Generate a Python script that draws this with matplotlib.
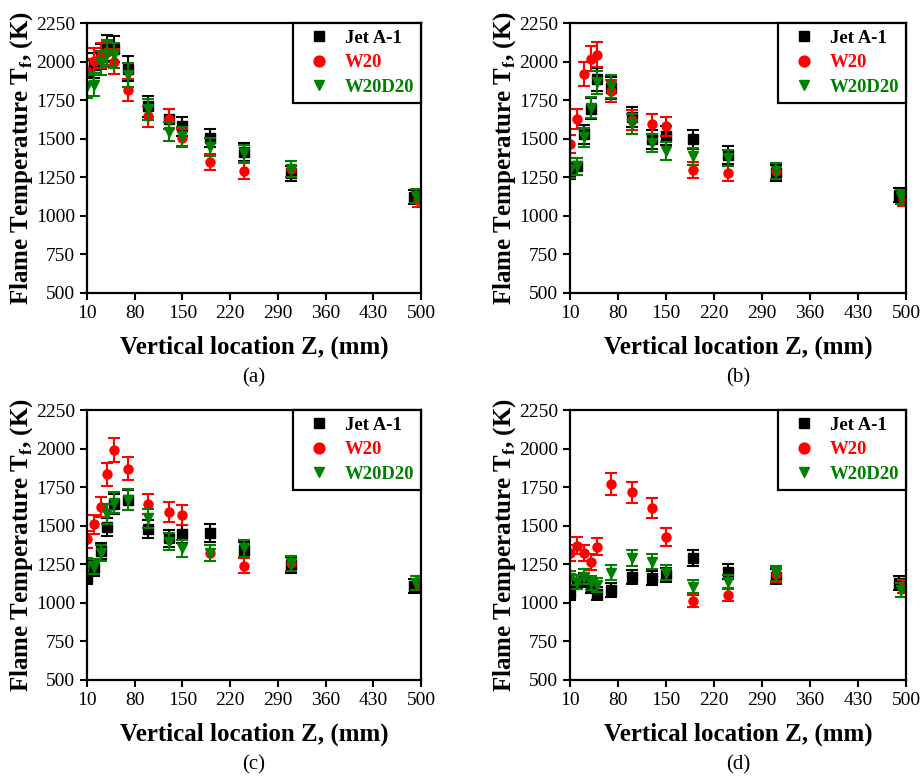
import matplotlib
matplotlib.use("Agg")
from matplotlib import pyplot as plt

plt.rcParams['font.family'] = 'Liberation Serif'
plt.rcParams['mathtext.fontset'] = 'custom'
plt.rcParams['mathtext.rm'] = 'Liberation Serif'
plt.rcParams['mathtext.bf'] = 'Liberation Serif:bold'

# vertical locations (mm)
z_jet = [10, 20, 30, 40, 50, 70, 100, 130, 150, 190, 240, 310, 490]
z_w20 = [10, 20, 30, 40, 50, 70, 100, 130, 150, 190, 240, 310, 496]
z_w20d20 = [10, 20, 30, 40, 50, 70, 100, 130, 150, 190, 240, 310, 492]

# flame temperature (K), panels a-d
jet_a = [1930, 1975, 2030, 2090, 2080, 1955, 1710, 1630, 1580, 1505, 1415, 1275, 1120]
w20_a = [1940, 2005, 2040, 2060, 2000, 1815, 1645, 1630, 1505, 1350, 1290, 1305, 1100]
w20d20_a = [1840, 1850, 1990, 2050, 2040, 1915, 1690, 1545, 1515, 1445, 1405, 1305, 1130]

jet_b = [1290, 1320, 1530, 1695, 1885, 1830, 1640, 1495, 1520, 1495, 1395, 1280, 1135]
w20_b = [1465, 1625, 1920, 2020, 2045, 1810, 1620, 1595, 1580, 1295, 1275, 1290, 1110]
w20d20_b = [1295, 1320, 1510, 1700, 1865, 1840, 1595, 1470, 1420, 1385, 1375, 1290, 1120]

jet_c = [1170, 1225, 1335, 1490, 1640, 1667, 1477, 1418, 1444, 1455, 1343, 1245, 1110]
w20_c = [1412, 1509, 1624, 1833, 1991, 1868, 1639, 1587, 1570, 1321, 1241, 1256, 1130]
w20d20_c = [1239, 1235, 1325, 1575, 1650, 1668, 1548, 1397, 1353, 1321, 1353, 1256, 1131]

jet_d = [1062, 1137, 1148, 1105, 1058, 1083, 1167, 1163, 1181, 1289, 1202, 1170, 1127]
w20_d = [1321, 1369, 1325, 1263, 1364, 1768, 1716, 1615, 1425, 1013, 1053, 1185, 1105]
w20d20_d = [1160, 1137, 1170, 1127, 1116, 1196, 1289, 1267, 1196, 1105, 1137, 1191, 1083]

rel_err = 0.04  # error bars are about 4 % of the reading

series = [("Jet A-1", z_jet, "s", "black"),
          ("W20", z_w20, "o", "red"),
          ("W20D20", z_w20d20, "v", "green")]
panels = [("(a)", [jet_a, w20_a, w20d20_a]),
          ("(b)", [jet_b, w20_b, w20d20_b]),
          ("(c)", [jet_c, w20_c, w20d20_c]),
          ("(d)", [jet_d, w20_d, w20d20_d])]
xticks = [10, 80, 150, 220, 290, 360, 430, 500]
yticks = [500, 750, 1000, 1250, 1500, 1750, 2000, 2250]

fig = plt.figure(figsize=(9.21, 7.78), dpi=100)
rects = [[0.0945, 0.6234, 0.3626, 0.347],
         [0.6189, 0.6234, 0.3648, 0.347],
         [0.0945, 0.126, 0.3626, 0.347],
         [0.6189, 0.126, 0.3648, 0.347]]

for rect, (tag, vals) in zip(rects, panels):
    ax = fig.add_axes(rect)
    for (name, z, mk, col), T in zip(series, vals):
        err = [t * rel_err for t in T]
        ax.errorbar(z, T, yerr=err, fmt='none', ecolor=col, elinewidth=1.5,
                    capsize=4.5, capthick=1.5)
        ax.plot(z, T, ls='none', marker=mk, ms=6.5, color=col, label=name)
    ax.set_xlim(10, 500)
    ax.set_ylim(500, 2250)
    ax.set_xticks(xticks)
    ax.set_yticks(yticks)
    ax.tick_params(direction='out', length=5, width=1.5, labelsize=14,
                   top=False, right=False)
    for s in ax.spines.values():
        s.set_linewidth(1.6)
    ax.set_xlabel("Vertical location Z, (mm)", fontsize=18, fontweight='bold',
                  labelpad=10)
    ax.set_ylabel(r"Flame Temperature T$_{\mathbf{f}}$, (K)", fontsize=18,
                  fontweight='bold', labelpad=1)
    leg = ax.legend(loc='upper right', borderaxespad=0, fancybox=False,
                    edgecolor='black', framealpha=1, handletextpad=0.4,
                    handlelength=2.0, prop={'weight': 'bold', 'size': 13.5},
                    labelspacing=0.4, borderpad=0.35, markerscale=1.2)
    leg.get_frame().set_linewidth(1.6)
    for txt, (name, z, mk, col) in zip(leg.get_texts(), series):
        txt.set_color(col)
    ax.text(0.5, -0.315, tag, transform=ax.transAxes, ha='center', va='center',
            fontsize=15)

fig.savefig("out.png", dpi=100)
